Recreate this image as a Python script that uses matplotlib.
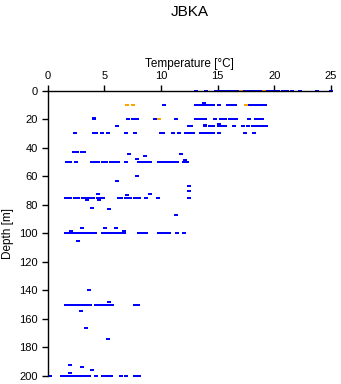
import numpy as np
import matplotlib as mpl
mpl.use('Agg')
import matplotlib.pyplot as plt

plt.rcParams['font.family'] = ['Liberation Sans', 'DejaVu Sans']

# temperature readings [degC] grouped by sampling depth [m]
t_000 = [13.05, 13.95, 14.85, 15.1, 15.3, 15.5, 15.7, 16.0, 16.2, 16.4, 16.6, 16.75,
         17.3, 17.7, 18.0, 18.2, 18.35, 18.7, 18.9, 19.2, 19.4, 19.6, 20.0, 20.3,
         20.8, 21.1, 21.6, 22.3, 23.8, 25.0]
t_010 = [10.3, 13.1, 13.35, 13.6, 13.85, 14.1, 14.35, 14.6, 15.15, 15.95, 16.25, 16.5,
         17.8, 18.05, 18.3, 18.55, 18.8, 19.05, 19.2]
t_020 = [4.1, 7.05, 7.5, 7.85, 9.5, 11.35, 13.1, 13.35, 13.6, 13.9, 14.75, 15.3, 15.65,
         16.1, 16.35, 16.6, 17.75, 18.4, 18.65, 18.9]
t_025 = [6.1, 12.5, 12.65, 13.9, 14.3, 14.55, 15.1, 15.25, 15.65, 16.45, 17.25, 17.7,
         18.1, 18.4, 18.75, 19.0, 19.3]
t_030 = [2.4, 4.1, 4.25, 4.8, 5.3, 6.95, 7.7, 10.0, 10.15, 11.1, 11.55, 12.2, 12.5,
         12.85, 13.55, 13.85, 14.2, 14.55, 15.15, 17.4, 18.2]
t_043 = [2.3, 2.55, 3.0, 3.2]
t_050 = [1.7, 1.95, 2.5, 3.9, 4.15, 4.4, 4.9, 5.15, 5.55, 5.8, 6.05, 6.2, 6.95, 8.1,
         8.35, 8.65, 9.0, 9.8, 10.05, 10.3, 10.55, 10.8, 11.05, 11.45, 12.05, 12.3]
t_075 = [1.6, 1.8, 2.0, 2.4, 2.7, 3.1, 3.3, 3.6, 3.9, 4.0, 4.4, 4.6, 4.9, 6.3, 6.5,
         6.9, 7.3, 7.7, 8.1, 8.7, 9.7, 12.5]
t_100 = [1.6, 1.8, 2.0, 2.2, 2.4, 2.6, 2.8, 3.0, 3.2, 3.4, 3.6, 3.8, 4.0, 4.2, 4.9,
         5.1, 5.3, 5.5, 5.7, 5.9, 6.1, 6.3, 6.5, 6.7, 8.1, 8.4, 8.7, 9.85, 10.2, 10.5,
         10.7, 11.45, 12.05]
t_150 = [1.6, 1.8, 2.0, 2.2, 2.4, 2.6, 2.8, 3.0, 3.2, 3.4, 3.7, 4.25, 4.6, 4.8, 5.0,
         5.2, 5.5, 5.7, 7.7, 8.0]
t_200 = [0.2, 1.25, 1.5, 1.6, 1.8, 2.0, 2.2, 2.4, 2.6, 2.8, 3.0, 3.2, 3.45, 3.67, 4.3,
         4.9, 5.05, 5.35, 5.55, 6.5, 6.9, 7.7, 8.1]

# odd depths that do not fall on the standard levels
odd_depth = [8.5, 19, 23.9, 23, 44.7, 48, 46, 60, 63, 44.7, 48.7, 67, 70,
             72.6, 72.9, 72.6, 76.8, 76.8, 82, 83.2, 86.9,
             96, 96.3, 96.3, 98.6, 98.6, 105.2,
             140, 147.8, 154.2, 166, 174,
             192.2, 197.8, 193.8, 195.9]
odd_temp = [13.75, 4.1, 13.9, 15.1, 7.2, 7.9, 8.6, 7.9, 6.1, 11.8, 12.1, 12.5, 12.5,
            4.4, 7.0, 9.05, 3.5, 4.55, 3.9, 5.45, 11.3,
            3.0, 5.05, 6.05, 6.7, 2.05, 2.7,
            3.6, 5.45, 2.9, 3.4, 5.3,
            1.97, 1.97, 3.0, 3.9]

# flagged readings
flag_depth = [0, 0, 10, 10, 10, 20]
flag_temp = [17.05, 19.05, 7.0, 7.5, 17.5, 9.85]

levels = {0: t_000, 10: t_010, 20: t_020, 25: t_025, 30: t_030, 43: t_043,
          50: t_050, 75: t_075, 100: t_100, 150: t_150, 200: t_200}
temp = np.concatenate([np.array(v, float) for v in levels.values()] + [odd_temp])
depth = np.concatenate([np.full(len(v), d, float) for d, v in levels.items()] + [odd_depth])

# flat 3:2 rectangle as point marker
rect = [(-1.5, -1), (1.5, -1), (1.5, 1), (-1.5, 1), (-1.5, -1)]

fig = plt.figure(figsize=(3.41, 3.84), dpi=100)
ax = fig.add_axes([0.1399, 0.0208, 0.8308, 0.743])

ax.plot(temp, depth, linestyle='none', marker=rect, color='#0000ff', markersize=2.6,
        markeredgewidth=0, clip_on=False)
ax.plot(flag_temp, flag_depth, linestyle='none', marker=rect, color='#ffa500',
        markersize=2.6, markeredgewidth=0, clip_on=False)

ax.set_xlim(0, 25)
ax.set_ylim(200, 0)
ax.set_xticks(np.arange(0, 26, 5))
ax.set_yticks(np.arange(0, 201, 20))

ax.xaxis.tick_top()
ax.xaxis.set_label_position('top')
for s in ['right', 'bottom']:
    ax.spines[s].set_visible(False)
for s in ['top', 'left']:
    ax.spines[s].set_linewidth(1.0)
ax.tick_params(axis='both', direction='out', length=4.5, width=1.0, labelsize=8,
               pad=2.5)

ax.set_xlabel('Temperature [°C]', fontsize=8.5, labelpad=3)
ax.set_ylabel('Depth [m]', fontsize=8.5, labelpad=4)

fig.text(0.556, 1 - 12 / 384, 'JBKA', ha='center', va='center', fontsize=11)

fig.savefig('out.png', dpi=100)
